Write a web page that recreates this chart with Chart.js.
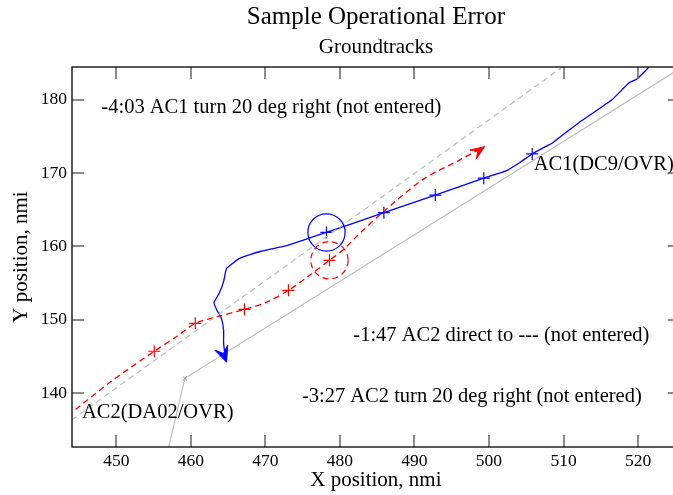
<!DOCTYPE html>
<html>
<head>
<meta charset="utf-8">
<script src="https://cdn.jsdelivr.net/npm/chart.js@4/dist/chart.umd.min.js"></script>
<style>
  html, body { margin: 0; padding: 0; background: #fff; overflow: hidden; }
  #wrap { width: 687px; height: 495px; }
  canvas { display: block; }
</style>
</head>
<body>
<!-- the plot frame runs a little past the right edge of the window, so the canvas is wider than it -->
<div id="wrap"><canvas id="groundtracks" width="687" height="495"></canvas></div>
<script>
// axis ticks, nmi
const xTickValues = [450, 460, 470, 480, 490, 500, 510, 520];
const yTickValues = [140, 150, 160, 170, 180];
const xMin = 444.06, xMax = 525.6;
const yMin = 132.64, yMax = 184.46;

// AC1 (DC9/OVR) groundtrack, from top right down to the turn
const ac1X = [522.3, 521.5, 519.8, 518.8, 516.5, 512.1, 508.5, 507.2, 505.8, 504.1, 502.3, 499.3, 492.8, 485.9, 478.2,
              475.5, 472.9, 469.3, 466.6, 464.8, 464.4, 463.8, 463.1, 463.5, 464.1, 464.4, 464.4, 464.6, 464.8];
const ac1Y = [185.5, 184.5, 182.8, 182.3, 180.0, 176.9, 174.1, 173.4, 172.6, 171.4, 170.3, 169.3, 167.0, 164.6, 161.9,
              161.0, 160.1, 159.3, 158.4, 157.0, 155.2, 153.6, 152.3, 151.3, 150.2, 148.6, 146.8, 145.2, 144.2];
const ac1MarkX = [505.8, 499.3, 492.8, 485.9, 478.2];
const ac1MarkY = [172.6, 169.3, 167.0, 164.6, 161.9];

// AC2 (DA02/OVR) groundtrack
const ac2X = [443.5, 449.2, 455.1, 458.1, 460.6, 463.5, 467.2, 470.2, 473.1, 476.0, 478.6, 480.4, 482.7, 485.7, 491.1, 496.1, 499.4];
const ac2Y = [136.9, 141.5, 145.7, 147.7, 149.5, 150.4, 151.4, 152.4, 154.0, 156.1, 158.1, 159.5, 161.8, 164.6, 169.1, 171.8, 173.6];
const ac2MarkX = [455.1, 460.6, 467.2, 473.1, 478.6];
const ac2MarkY = [145.7, 149.5, 151.4, 154.0, 158.1];

// reference routes
const routeDashX = [444.0, 509.9];
const routeDashY = [136.3, 184.5];
const routeSolidX = [457.0, 459.2, 526.0];
const routeSolidY = [132.5, 142.0, 184.5];

// separation circles (centre and radius, nmi)
const circleX = [478.2, 478.6];
const circleY = [161.9, 158.1];
const circleR = [2.5, 2.5];

// text notes
const noteText = [
  '-4:03 AC1 turn 20 deg right (not entered)',
  'AC1(DC9/OVR)',
  '-1:47 AC2 direct to --- (not entered)',
  '-3:27 AC2 turn 20 deg right (not entered)',
  'AC2(DA02/OVR)'
];
const noteX = [448.0, 506.0, 481.8, 474.9, 445.4];
const noteY = [178.9, 171.1, 147.8, 139.5, 137.3];

const SERIF = "'Liberation Serif', 'DejaVu Serif', serif";
const BLUE = '#0000ff';
const RED = '#ff0000';
const GREY = '#bdbdbd';

function pts(xs, ys) {
  return xs.map((x, i) => ({x: x, y: ys[i]}));
}

const decor = {
  id: 'decor',
  afterDatasetsDraw(chart) {
    const ctx = chart.ctx;
    const xs = chart.scales.x, ys = chart.scales.y;
    const a = chart.chartArea;
    const right = xs.getPixelForValue(xMax);

    // circles
    circleX.forEach((cx, i) => {
      const px = xs.getPixelForValue(cx), py = ys.getPixelForValue(circleY[i]);
      const r = xs.getPixelForValue(cx + circleR[i]) - px;
      ctx.save();
      ctx.beginPath();
      ctx.strokeStyle = i === 0 ? BLUE : RED;
      ctx.lineWidth = 1.2;
      if (i === 1) ctx.setLineDash([6, 4]);
      ctx.arc(px, py, r, 0, Math.PI * 2);
      ctx.stroke();
      ctx.restore();
    });

    // arrow heads at the end of the tracks
    chart.data.datasets.forEach((ds, di) => {
      if (!ds.arrow) return;
      const el = chart.getDatasetMeta(di).data;
      const p1 = el[el.length - 1], p0 = el[el.length - 3];
      let ang = Math.atan2(p1.y - p0.y, p1.x - p0.x) + (ds.arrow.turn || 0);
      const len = ds.arrow.len, half = ds.arrow.half;
      ctx.save();
      ctx.fillStyle = ds.borderColor;
      ctx.strokeStyle = ds.borderColor;
      ctx.lineWidth = 1;
      ctx.beginPath();
      ctx.moveTo(p1.x, p1.y);
      ctx.lineTo(p1.x - len * Math.cos(ang - half), p1.y - len * Math.sin(ang - half));
      ctx.lineTo(p1.x - len * 0.55 * Math.cos(ang), p1.y - len * 0.55 * Math.sin(ang));
      ctx.lineTo(p1.x - len * Math.cos(ang + half), p1.y - len * Math.sin(ang + half));
      ctx.closePath();
      ctx.fill();
      ctx.stroke();
      ctx.restore();
    });

    // notes
    ctx.save();
    ctx.fillStyle = '#000';
    ctx.font = '20.5px ' + SERIF;
    ctx.textAlign = 'left';
    ctx.textBaseline = 'middle';
    noteText.forEach((t, i) => {
      ctx.fillText(t, xs.getPixelForValue(noteX[i]), ys.getPixelForValue(noteY[i]));
    });
    ctx.restore();

    // frame and inward ticks
    ctx.save();
    ctx.strokeStyle = '#666';
    ctx.lineWidth = 1.5;
    ctx.beginPath();
    xTickValues.forEach(v => {
      const p = Math.round(xs.getPixelForValue(v));
      ctx.moveTo(p, a.bottom); ctx.lineTo(p, a.bottom - 12);
      ctx.moveTo(p, a.top); ctx.lineTo(p, a.top + 12);
    });
    yTickValues.forEach(v => {
      const p = Math.round(ys.getPixelForValue(v));
      ctx.moveTo(a.left, p); ctx.lineTo(a.left + 12, p);
      ctx.moveTo(right, p); ctx.lineTo(right - 12, p);
    });
    ctx.stroke();
    ctx.strokeStyle = '#000';
    ctx.lineWidth = 1.3;
    ctx.strokeRect(a.left, a.top, right - a.left, a.bottom - a.top);

    // titles
    const mid = (a.left + right) / 2;
    ctx.fillStyle = '#000';
    ctx.textAlign = 'center';
    ctx.textBaseline = 'middle';
    ctx.font = '25px ' + SERIF;
    ctx.fillText('Sample Operational Error', mid, 17);
    ctx.font = '21px ' + SERIF;
    ctx.fillText('Groundtracks', mid, 47);
    ctx.restore();
  }
};

new Chart(document.getElementById('groundtracks'), {
  type: 'scatter',
  data: {
    datasets: [
      {
        data: pts(routeDashX, routeDashY),
        showLine: true, borderColor: GREY, borderWidth: 1.2, borderDash: [6, 4],
        pointRadius: 0
      },
      {
        data: pts(routeSolidX, routeSolidY),
        showLine: true, borderColor: GREY, borderWidth: 1.2,
        pointRadius: [0, 3, 0], pointStyle: 'crossRot', pointBorderColor: '#999', pointBorderWidth: 1
      },
      {
        data: pts(ac2X, ac2Y),
        showLine: true, borderColor: RED, borderWidth: 1.3, borderDash: [6, 4],
        tension: 0.3, pointRadius: 0,
        arrow: {len: 15, half: 0.38, turn: -0.12}
      },
      {
        data: pts(ac2MarkX, ac2MarkY),
        pointStyle: 'cross', pointRadius: 6, pointBorderColor: RED, pointBorderWidth: 1.2
      },
      {
        data: pts(ac1X, ac1Y),
        showLine: true, borderColor: BLUE, borderWidth: 1.3,
        tension: 0.12, pointRadius: 0,
        arrow: {len: 17, half: 0.42, turn: -0.2}
      },
      {
        data: pts(ac1MarkX, ac1MarkY),
        pointStyle: 'cross', pointRadius: 6, pointBorderColor: BLUE, pointBorderWidth: 1.2
      }
    ]
  },
  options: {
    responsive: false,
    maintainAspectRatio: false,
    devicePixelRatio: 1,
    animation: false,
    events: [],
    layout: { padding: { top: 67, right: 0, left: 0, bottom: 0 } },
    plugins: {
      legend: { display: false },
      tooltip: { enabled: false }
    },
    scales: {
      x: {
        type: 'linear',
        min: xMin, max: xMax,
        afterBuildTicks: s => { s.ticks = xTickValues.map(v => ({value: v})); },
        afterFit: s => { s.height = 48; },
        grid: { display: false, drawTicks: false },
        border: { display: false },
        ticks: { color: '#000', padding: 4, maxRotation: 0, font: { family: SERIF, size: 17.5 } },
        title: { display: true, text: 'X position, nmi', color: '#000', padding: { top: 2.4, bottom: 2.4 },
                 font: { family: SERIF, size: 21 } }
      },
      y: {
        type: 'linear',
        min: yMin, max: yMax,
        afterBuildTicks: s => { s.ticks = yTickValues.map(v => ({value: v})); },
        afterFit: s => { s.width = 72; },
        grid: { display: false, drawTicks: false },
        border: { display: false },
        ticks: { color: '#000', padding: 5, font: { family: SERIF, size: 17.5 } },
        title: { display: true, text: 'Y position, nmi', color: '#000', padding: { top: 9, bottom: 9 },
                 font: { family: SERIF, size: 21 } }
      }
    }
  },
  plugins: [decor]
});
</script>
</body>
</html>
